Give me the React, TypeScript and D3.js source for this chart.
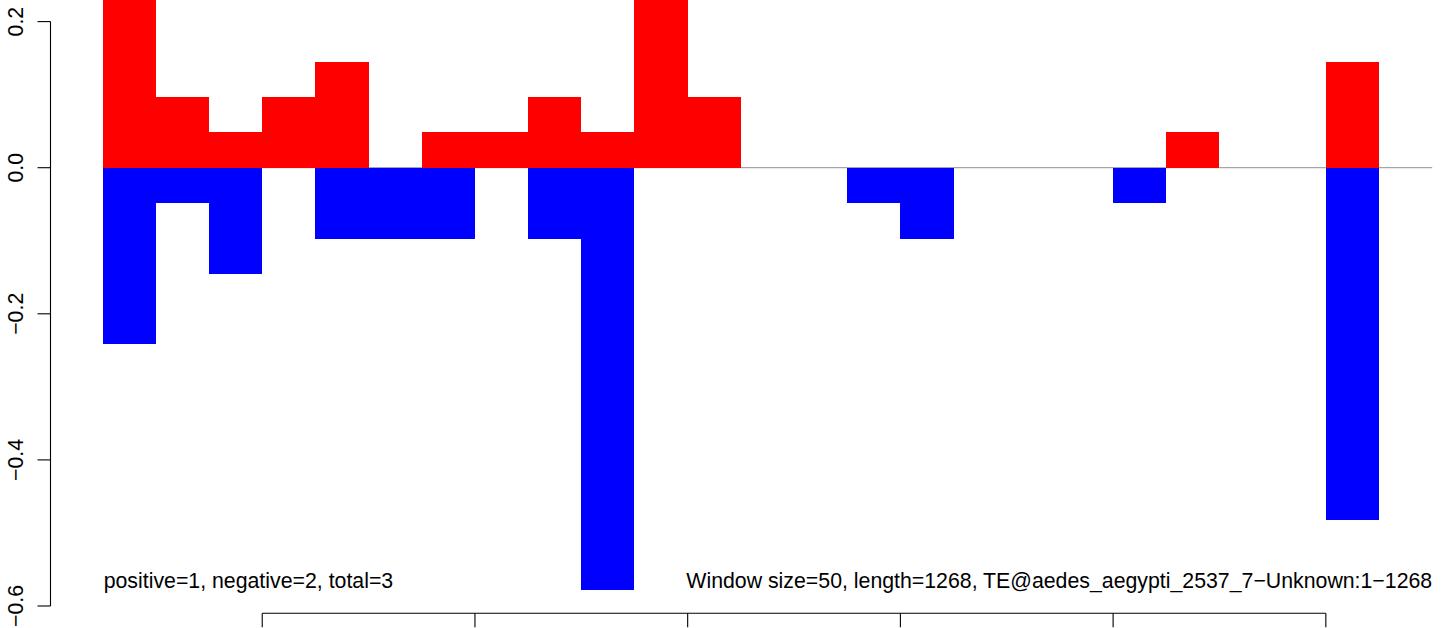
import React from "react";
import * as d3 from "d3";

const windowStarts = [50, 100, 150, 200, 250, 300, 350, 400, 450, 500, 550, 600, 650, 700, 750, 800, 850, 900, 950, 1000, 1050, 1100, 1150, 1200];
const windowSize = 50;
const positiveValues = [0.29, 0.097, 0.049, 0.097, 0.145, 0, 0.049, 0.049, 0.097, 0.049, 0.29, 0.097, 0, 0, 0, 0, 0, 0, 0, 0, 0.049, 0, 0, 0.145];
const negativeValues = [-0.241, -0.049, -0.145, 0, -0.097, -0.097, -0.097, 0, -0.097, -0.578, 0, 0, 0, 0, -0.049, -0.097, 0, 0, 0, -0.049, 0, 0, 0, -0.482];
const yTicks = [0.2, 0.0, -0.2, -0.4, -0.6];
const yTickLabels = ["0.2", "0.0", "\u22120.2", "\u22120.4", "\u22120.6"];
const xTicks = [200, 400, 600, 800, 1000, 1200];
const leftNote = "positive=1, negative=2, total=3";
const rightNote = "Window size=50, length=1268, TE@aedes_aegypti_2537_7\u2212Unknown:1\u22121268";

const W = 1444;
const H = 628;

export default function App() {
  const x = d3.scaleLinear().domain([0, 1300]).range([49.5, 1432.2]);
  const y = d3.scaleLinear().domain([0.2, -0.6]).range([21.6, 606]);
  const font = "'Liberation Sans', Arial, Helvetica, sans-serif";
  const axisX = 50.5;
  const axisY = 613.3;
  const fs = 21.3;

  return (
    <div style={{ position: "absolute", left: 0, top: 0 }}>
      <svg width={W} height={H} style={{ display: "block", background: "#fff" }}>
        <line x1={x(50)} x2={x(1300)} y1={y(0)} y2={y(0)} stroke="#a6a6a6" strokeWidth={1.3} />
        <g shapeRendering="crispEdges">
          {windowStarts.map((s, i) =>
            positiveValues[i] > 0 ? (
              <rect
                key={"p" + i}
                x={x(s)}
                width={x(s + windowSize) - x(s)}
                y={y(positiveValues[i])}
                height={y(0) - y(positiveValues[i])}
                fill="#FF0000"
              />
            ) : null
          )}
          {windowStarts.map((s, i) =>
            negativeValues[i] < 0 ? (
              <rect
                key={"n" + i}
                x={x(s)}
                width={x(s + windowSize) - x(s)}
                y={y(0)}
                height={y(negativeValues[i]) - y(0)}
                fill="#0000FF"
              />
            ) : null
          )}
        </g>

        {/* y axis */}
        <line x1={axisX} x2={axisX} y1={y(yTicks[0])} y2={y(yTicks[yTicks.length - 1])} stroke="#000" strokeWidth={1.1} />
        {yTicks.map((t, i) => (
          <g key={"yt" + i}>
            <line x1={axisX - 13} x2={axisX} y1={y(t)} y2={y(t)} stroke="#000" strokeWidth={1.1} />
            <text
              transform={`translate(${23},${y(t)}) rotate(-90)`}
              textAnchor="middle"
              fontFamily={font}
              fontSize={fs}
              fill="#000"
            >
              {yTickLabels[i]}
            </text>
          </g>
        ))}

        {/* x axis */}
        <line x1={x(xTicks[0])} x2={x(xTicks[xTicks.length - 1])} y1={axisY} y2={axisY} stroke="#000" strokeWidth={1.1} />
        {xTicks.map((t, i) => (
          <line key={"xt" + i} x1={x(t)} x2={x(t)} y1={axisY} y2={axisY + 14} stroke="#000" strokeWidth={1.1} />
        ))}

        <text x={x(50) + 1} y={588} fontFamily={font} fontSize={fs} fill="#000">
          {leftNote}
        </text>
        <text x={x(1300)} y={588} textAnchor="end" fontFamily={font} fontSize={fs} fill="#000">
          {rightNote}
        </text>
      </svg>
    </div>
  );
}
